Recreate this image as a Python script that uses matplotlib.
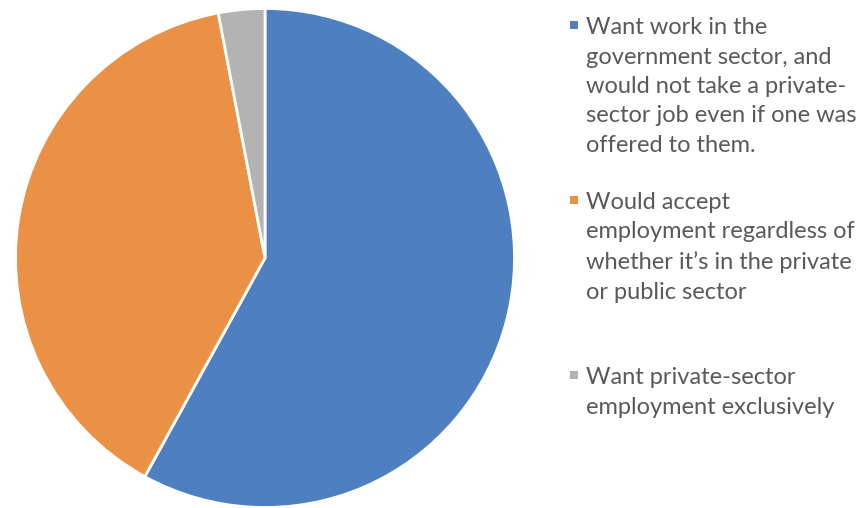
import matplotlib
matplotlib.use("Agg")
import matplotlib.pyplot as plt
from matplotlib.patches import Rectangle

categories = [
    "Want work in the\ngovernment sector, and\nwould not take a private-\nsector job even if one was\noffered to them.",
    "Would accept\nemployment regardless of\nwhether it\u2019s in the private\nor public sector",
    "Want private-sector\nemployment exclusively",
]
shares = [58, 39, 3]
colors = ["#4E80C1", "#EB9146", "#B3B3B3"]

W, H = 861, 508
fig = plt.figure(figsize=(W / 100, H / 100), dpi=100)

# Pie axes: centre (265, 258) px, radius 252 px
cx, cy, r = 265, 258, 252
ax = fig.add_axes([(cx - r) / W, (H - cy - r) / H, 2 * r / W, 2 * r / H])
ax.pie(shares, colors=colors, startangle=90, counterclock=False,
       wedgeprops=dict(edgecolor="white", linewidth=2))
ax.set_xlim(-1.01, 1.01)
ax.set_ylim(-1.01, 1.01)
ax.set_aspect("equal")
ax.axis("off")

# Legend entries drawn as text blocks with square markers
cap_tops = [20, 195, 370]  # px from top of figure
text_x = 586
marker_x = 570
msize = 8
for label, color, top in zip(categories, colors, cap_tops):
    fig.text(text_x / W, 1 - (top - 3) / H, label, ha="left", va="top",
             fontsize=17, family="Lato", color="#595959", linespacing=1.5)
    fig.patches.append(Rectangle((marker_x / W, 1 - (top + msize + 1) / H), msize / W, msize / H,
                                 transform=fig.transFigure, facecolor=color,
                                 edgecolor="none"))

fig.savefig("out.png", dpi=100)
